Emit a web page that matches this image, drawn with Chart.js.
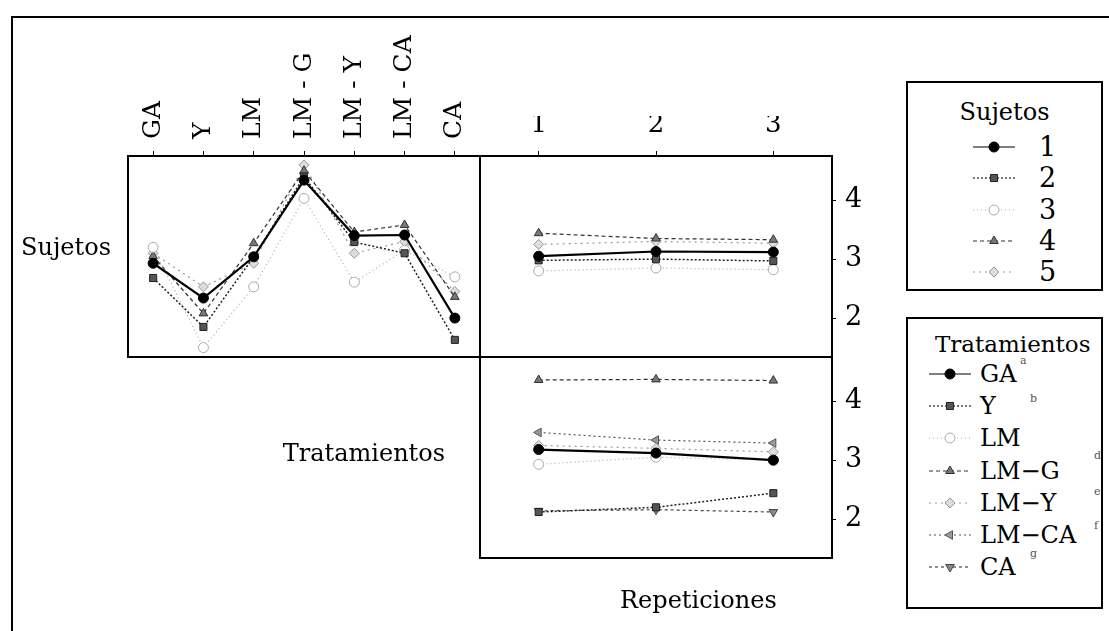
<!DOCTYPE html>
<html>
<head>
<meta charset="utf-8">
<script src="https://cdn.jsdelivr.net/npm/chart.js@4.4.1/dist/chart.umd.min.js"></script>
<style>
  body { margin: 0; background: #fff; }
  #wrap { position: relative; width: 1109px; height: 631px; overflow: hidden; font-family: "DejaVu Serif", serif; color: #000; }
  canvas.layer { position: absolute; left: 0; top: 0; }
  .frame { position: absolute; left: 11px; top: 16px; width: 1200px; height: 700px; border-left: 2px solid #000; border-top: 2px solid #000; }
  .lbl { position: absolute; font-size: 24px; line-height: 28px; white-space: nowrap; }
  .box { position: absolute; border: 2px solid #000; background: #fff; }
  .row { position: absolute; height: 28px; }
  .row canvas { position: absolute; top: 4px; }
  .sup { position: absolute; font-size: 11px; color: #555; }
</style>
</head>
<body>
<div id="wrap">
  <div class="frame"></div>
  <canvas id="cA" class="layer" width="1109" height="631"></canvas>
  <canvas id="cB" class="layer" width="1109" height="631"></canvas>
  <canvas id="cC" class="layer" width="1109" height="631"></canvas>

  <div class="lbl" style="left:21px; top:233px;">Sujetos</div>
  <div class="lbl" style="right:664px; top:439px;">Tratamientos</div>
  <div class="lbl" style="left:620px; top:586px;">Repeticiones</div>

  <div class="box" id="legSuj" style="left:906px; top:81px; width:193px; height:206px;">
    <div class="lbl" style="left:0; width:193px; text-align:center; top:15px;">Sujetos</div>
  </div>
  <div class="box" id="legTrat" style="left:906px; top:317px; width:193px; height:288px;">
    <div class="lbl" style="left:27px; top:11px; font-size:23px;">Tratamientos</div>
  </div>
</div>

<script>
// categories
const treatments = ['GA', 'Y', 'LM', 'LM - G', 'LM - Y', 'LM - CA', 'CA'];
const repetitions = ['1', '2', '3'];
const yTicks = [2, 3, 4];

// Sujetos x Tratamientos (top left panel)
const s1Trat = [2.93, 2.34, 3.04, 4.34, 3.40, 3.41, 2.00];
const s2Trat = [2.68, 1.85, 3.04, 4.40, 3.29, 3.10, 1.63];
const s3Trat = [3.20, 1.50, 2.53, 4.03, 2.61, 3.15, 2.70];
const s4Trat = [3.05, 2.08, 3.27, 4.50, 3.46, 3.58, 2.36];
const s5Trat = [3.10, 2.53, 2.93, 4.60, 3.10, 3.30, 2.45];

// Sujetos x Repeticiones (top right panel)
const s1Rep = [3.05, 3.13, 3.12];
const s2Rep = [2.98, 3.00, 2.97];
const s3Rep = [2.80, 2.85, 2.82];
const s4Rep = [3.44, 3.35, 3.33];
const s5Rep = [3.25, 3.30, 3.27];

// Tratamientos x Repeticiones (bottom right panel)
const gaRep   = [3.18, 3.12, 3.00];
const yRep    = [2.12, 2.20, 2.44];
const lmRep   = [2.93, 3.05, 3.00];
const lmgRep  = [4.36, 4.37, 4.35];
const lmyRep  = [3.25, 3.20, 3.14];
const lmcaRep = [3.47, 3.34, 3.29];
const caRep   = [2.14, 2.16, 2.12];

// legend texts
const subjectNames = ['1', '2', '3', '4', '5'];
const treatNames = ['GA', 'Y', 'LM', 'LM\u2212G', 'LM\u2212Y', 'LM\u2212CA', 'CA'];
const treatLetters = ['a', 'b', 'c', 'd', 'e', 'f', 'g'];

const subjStyle = [
  { color: '#000', dash: [], width: 2.2, point: 'circle', fill: '#000', rot: 0 },
  { color: '#222', dash: [2, 2], width: 1.5, point: 'rect', fill: '#555', rot: 0 },
  { color: '#aaa', dash: [1, 3], width: 1.2, point: 'circle', fill: '#fff', rot: 0 },
  { color: '#333', dash: [4, 3], width: 1.2, point: 'triangle', fill: '#777', rot: 0 },
  { color: '#999', dash: [2, 4], width: 1.2, point: 'rectRot', fill: '#ddd', rot: 0 }
];
const treatStyle = [
  subjStyle[0], subjStyle[1], subjStyle[2], subjStyle[3], subjStyle[4],
  { color: '#555', dash: [2, 3], width: 1.2, point: 'triangle', fill: '#999', rot: -90 },
  { color: '#444', dash: [3, 3], width: 1.2, point: 'triangle', fill: '#888', rot: 180 }
];

const FONT = 'DejaVu Serif';

// draws the rectangle round each panel
const panelBox = {
  id: 'panelBox',
  afterDraw(chart) {
    const { ctx, chartArea: a } = chart;
    ctx.save();
    ctx.strokeStyle = '#000';
    ctx.lineWidth = 2;
    ctx.strokeRect(a.left, a.top, a.right - a.left, a.bottom - a.top);
    ctx.restore();
  }
};

function ds(data, st) {
  return {
    data: data,
    borderColor: st.color,
    borderWidth: st.width,
    borderDash: st.dash,
    pointStyle: st.point,
    pointRotation: st.rot,
    pointRadius: 5,
    pointBackgroundColor: st.fill,
    pointBorderColor: st.color,
    pointBorderWidth: 1,
    tension: 0,
    fill: false
  };
}

function rightAxis() {
  return {
    position: 'right', min: 1.34, max: 4.75,
    afterBuildTicks: s => { s.ticks = yTicks.map(v => ({ value: v })); },
    grid: { drawOnChartArea: false, tickLength: 4, color: '#000' },
    border: { color: '#000', width: 2 },
    ticks: { padding: 9, color: '#000', font: { family: FONT, size: 27 } },
    afterFit: s => { s.width = 45; }
  };
}

const common = {
  responsive: false,
  animation: false,
  plugins: { legend: { display: false }, tooltip: { enabled: false } }
};

// top left: Sujetos by Tratamientos
new Chart(document.getElementById('cA'), {
  type: 'line',
  data: {
    labels: treatments,
    datasets: [s1Trat, s2Trat, s3Trat, s4Trat, s5Trat].map((d, i) => ds(d, subjStyle[i]))
  },
  options: Object.assign({}, common, {
    layout: { padding: { left: 128, right: 629, top: 16, bottom: 274 } },
    scales: {
      x: {
        position: 'top', offset: true,
        grid: { drawOnChartArea: false, tickLength: 5, color: '#000' },
        border: { color: '#000', width: 2 },
        ticks: { minRotation: 90, maxRotation: 90, padding: 12, labelOffset: 30, color: '#000', font: { family: FONT, size: 25 } },
        afterFit: s => { s.height = 140; }
      },
      y: { display: false, min: 1.34, max: 4.75 }
    }
  }),
  plugins: [panelBox]
});

// top right: Sujetos by Repeticiones
new Chart(document.getElementById('cB'), {
  type: 'line',
  data: {
    labels: repetitions,
    datasets: [s1Rep, s2Rep, s3Rep, s4Rep, s5Rep].map((d, i) => ds(d, subjStyle[i]))
  },
  options: Object.assign({}, common, {
    layout: { padding: { left: 480, right: 232, top: 116, bottom: 274 } },
    scales: {
      x: {
        position: 'top', offset: true,
        grid: { drawOnChartArea: false, tickLength: 5, color: '#000' },
        border: { color: '#000', width: 2 },
        ticks: { maxRotation: 0, padding: 10, color: '#000', font: { family: FONT, size: 26 } },
        afterFit: s => { s.height = 40; }
      },
      y: rightAxis()
    }
  }),
  plugins: [panelBox]
});

// bottom right: Tratamientos by Repeticiones
new Chart(document.getElementById('cC'), {
  type: 'line',
  data: {
    labels: repetitions,
    datasets: [gaRep, yRep, lmRep, lmgRep, lmyRep, lmcaRep, caRep].map((d, i) => ds(d, treatStyle[i]))
  },
  options: Object.assign({}, common, {
    layout: { padding: { left: 480, right: 232, top: 357, bottom: 73 } },
    scales: {
      x: { display: false, offset: true },
      y: rightAxis()
    }
  }),
  plugins: [panelBox]
});

// legend keys
function drawKey(cv, st) {
  const ctx = cv.getContext('2d');
  const w = cv.width, h = cv.height;
  ctx.strokeStyle = st.color;
  ctx.lineWidth = 1.2;
  ctx.setLineDash(st.dash.length ? st.dash : []);
  ctx.beginPath();
  ctx.moveTo(1, h / 2);
  ctx.lineTo(w - 1, h / 2);
  ctx.stroke();
  ctx.setLineDash([]);
  ctx.fillStyle = st.fill;
  ctx.strokeStyle = st.color;
  ctx.lineWidth = 1;
  Chart.helpers.drawPoint(ctx, { pointStyle: st.point, rotation: st.rot, radius: 5, borderWidth: 1 }, w / 2, h / 2);
}

function addRow(box, top, keyLeft, st, text, textLeft, size) {
  const row = document.createElement('div');
  row.className = 'row';
  row.style.top = top + 'px';
  row.style.left = '0px';
  row.style.width = '100%';
  const cv = document.createElement('canvas');
  cv.width = 44; cv.height = 20;
  cv.style.left = keyLeft + 'px';
  row.appendChild(cv);
  const t = document.createElement('div');
  t.className = 'lbl';
  t.style.left = textLeft + 'px';
  t.style.top = '0px';
  t.style.fontSize = size + 'px';
  t.textContent = text;
  row.appendChild(t);
  box.appendChild(row);
  drawKey(cv, st);
  return row;
}

const legSuj = document.getElementById('legSuj');
subjectNames.forEach((n, i) => {
  addRow(legSuj, 50 + i * 31.3, 64, subjStyle[i], n, 131, 27);
});

const legTrat = document.getElementById('legTrat');
const supLeft = [112, 122, 104, 186, 186, 186, 122];
const supTop = [-6, 0, 0, -8, -4, -2, -6];
treatNames.forEach((n, i) => {
  const row = addRow(legTrat, 41 + i * 32.2, 20, treatStyle[i], n, 72, 24);
  const s = document.createElement('span');
  s.className = 'sup';
  s.style.left = supLeft[i] + 'px';
  s.style.top = supTop[i] + 'px';
  s.textContent = treatLetters[i];
  row.appendChild(s);
});
</script>
</body>
</html>
